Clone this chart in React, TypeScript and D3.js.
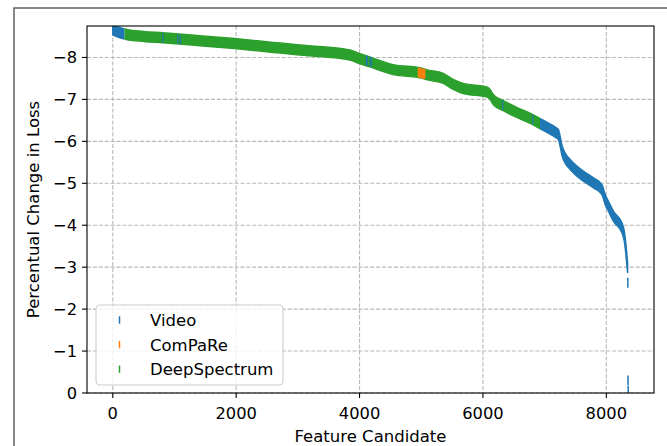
import React from "react";
import * as d3 from "d3";

// ---- data ----
const curveRank = [0, 60, 190, 500, 808, 1407, 1975, 2600, 3030, 3355, 3843, 4006, 4150, 4545, 5000, 5087, 5357, 5519, 5682, 6060, 6110, 6170, 6331, 6548, 6792, 6927, 7170, 7224, 7252, 7279, 7333, 7414, 7523, 7630, 7792, 7929, 7982, 8036, 8117, 8253, 8291, 8318, 8345];
const curveValue = [-8.66, -8.62, -8.56, -8.5, -8.47, -8.4, -8.33, -8.24, -8.18, -8.14, -8.06, -7.97, -7.9, -7.71, -7.63, -7.59, -7.5, -7.36, -7.26, -7.18, -7.13, -6.99, -6.85, -6.69, -6.53, -6.42, -6.22, -6.16, -6.0, -5.8, -5.6, -5.45, -5.29, -5.17, -5.01, -4.85, -4.61, -4.45, -4.21, -3.94, -3.74, -3.42, -2.98];

const segModality = ["Video", "DeepSpectrum", "Video"];
const segStart = [0, 190, 6927];
const segEnd = [190, 6927, 8345];

const markRank = [812, 1055, 1094, 4110, 4122, 4172, 4188, 4955, 4970, 4985, 5010, 5025, 5040, 5055, 6320, 6808, 8349, 8352, 8355];
const markValue = [-8.47, -8.44, -8.43, -7.92, -7.92, -7.9, -7.9, -7.64, -7.64, -7.63, -7.62, -7.62, -7.61, -7.61, -6.86, -6.52, -2.63, -0.3, -0.05];
const markModality = ["Video", "Video", "Video", "Video", "Video", "Video", "Video", "ComPaRe", "ComPaRe", "ComPaRe", "ComPaRe", "ComPaRe", "ComPaRe", "ComPaRe", "Video", "Video", "Video", "Video", "Video"];

const legendLabels = ["Video", "ComPaRe", "DeepSpectrum"];
const modalityColors = ["#1f77b4", "#ff7f0e", "#2ca02c"];
const xTicks = [0, 2000, 4000, 6000, 8000];
const yTicks = [0, -1, -2, -3, -4, -5, -6, -7, -8];
const xLabel = "Feature Candidate";
const yLabel = "Percentual Change in Loss";

const W = 667;
const H = 446;
const L = 87, R = 654, T = 26, B = 393;
const FONT = "DejaVu Sans, sans-serif";
const HALF = 5; // half marker height (px)

export default function App() {
  const x = d3.scaleLinear().domain([-418, 8773]).range([L, R]);
  const y = d3.scaleLinear().domain([0, -8.75]).range([B, T]);
  const color = d3.scaleOrdinal<string, string>().domain(legendLabels).range(modalityColors);

  const pts = curveRank.map((r, i) => [r, curveValue[i]] as [number, number]);
  const area = d3
    .area<[number, number]>()
    .x((d) => x(d[0]))
    .y0((d) => y(d[1]) - HALF)
    .y1((d) => y(d[1]) + HALF)
    .curve(d3.curveMonotoneX);
  const areaPath = area(pts) || "";

  const fmtY = (v: number) => (v === 0 ? "0" : "\u2212" + Math.abs(v));

  return (
    <svg width={W} height={H} style={{ display: "block", position: "absolute", left: 0, top: 0 }}>
      <rect x={0} y={0} width={W} height={H} fill="white" />
      <rect x={14} y={8} width={800} height={600} fill="none" stroke="#555" strokeWidth={1.4} />
      <defs>
        <clipPath id="plot">
          <rect x={L} y={T} width={R - L} height={B - T} />
        </clipPath>
        {segModality.map((m, i) => (
          <clipPath id={"seg" + i} key={i}>
            <rect
              x={i === 0 ? L : x(segStart[i])}
              y={T}
              width={(i === segModality.length - 1 ? R : x(segEnd[i])) - (i === 0 ? L : x(segStart[i]))}
              height={B - T}
            />
          </clipPath>
        ))}
      </defs>

      {/* grid */}
      <g stroke="#b8b8b8" strokeWidth={1.1} strokeDasharray="4.1,1.8">
        {xTicks.map((t) => (
          <line key={"gx" + t} x1={x(t)} x2={x(t)} y1={T} y2={B} />
        ))}
        {yTicks.map((t) => (
          <line key={"gy" + t} x1={L} x2={R} y1={y(t)} y2={y(t)} />
        ))}
      </g>

      {/* curve bands by modality */}
      <g clipPath="url(#plot)">
        {segModality.map((m, i) => (
          <path
            key={"a" + i}
            d={areaPath}
            fill={color(m)}
            stroke={color(m)}
            strokeWidth={1.5}
            clipPath={`url(#seg${i})`}
          />
        ))}
        {markRank.map((r, i) => (
          <line
            key={"m" + i}
            x1={x(r)}
            x2={x(r)}
            y1={y(markValue[i]) - HALF}
            y2={y(markValue[i]) + HALF}
            stroke={color(markModality[i])}
            strokeWidth={markModality[i] === "ComPaRe" || r > 8000 ? 1.5 : 1.1}
          />
        ))}
      </g>

      {/* spines */}
      <rect x={L} y={T} width={R - L} height={B - T} fill="none" stroke="#000" strokeWidth={1.1} />

      {/* ticks and labels */}
      <g fontFamily={FONT} fontSize={16.3} fill="#000">
        {xTicks.map((t) => (
          <g key={"xt" + t}>
            <line x1={x(t)} x2={x(t)} y1={B} y2={B + 5} stroke="#000" strokeWidth={1.1} />
            <text x={x(t)} y={419} textAnchor="middle">
              {String(t)}
            </text>
          </g>
        ))}
        {yTicks.map((t) => (
          <g key={"yt" + t}>
            <line x1={L - 5} x2={L} y1={y(t)} y2={y(t)} stroke="#000" strokeWidth={1.1} />
            <text x={77} y={y(t) + 5.8} textAnchor="end">
              {fmtY(t)}
            </text>
          </g>
        ))}
        <text x={(L + R) / 2} y={442} textAnchor="middle" fontSize={16.5}>
          {xLabel}
        </text>
        <text
          transform={`translate(39,${(T + B) / 2}) rotate(-90)`}
          textAnchor="middle"
          fontSize={16.5}
        >
          {yLabel}
        </text>
      </g>

      {/* legend */}
      <g fontFamily={FONT} fontSize={16.5}>
        <rect x={96} y={305} width={187} height={80} rx={4} fill="white" fillOpacity={0.8} stroke="#cccccc" strokeWidth={1.1} />
        {legendLabels.map((lab, i) => {
          const cy = 320 + i * 24.6;
          return (
            <g key={lab}>
              <line x1={119.5} x2={119.5} y1={cy - 3.7} y2={cy + 3.7} stroke={color(lab)} strokeWidth={1.5} />
              <text x={150} y={cy + 6} fill="#000">
                {lab}
              </text>
            </g>
          );
        })}
      </g>
    </svg>
  );
}
